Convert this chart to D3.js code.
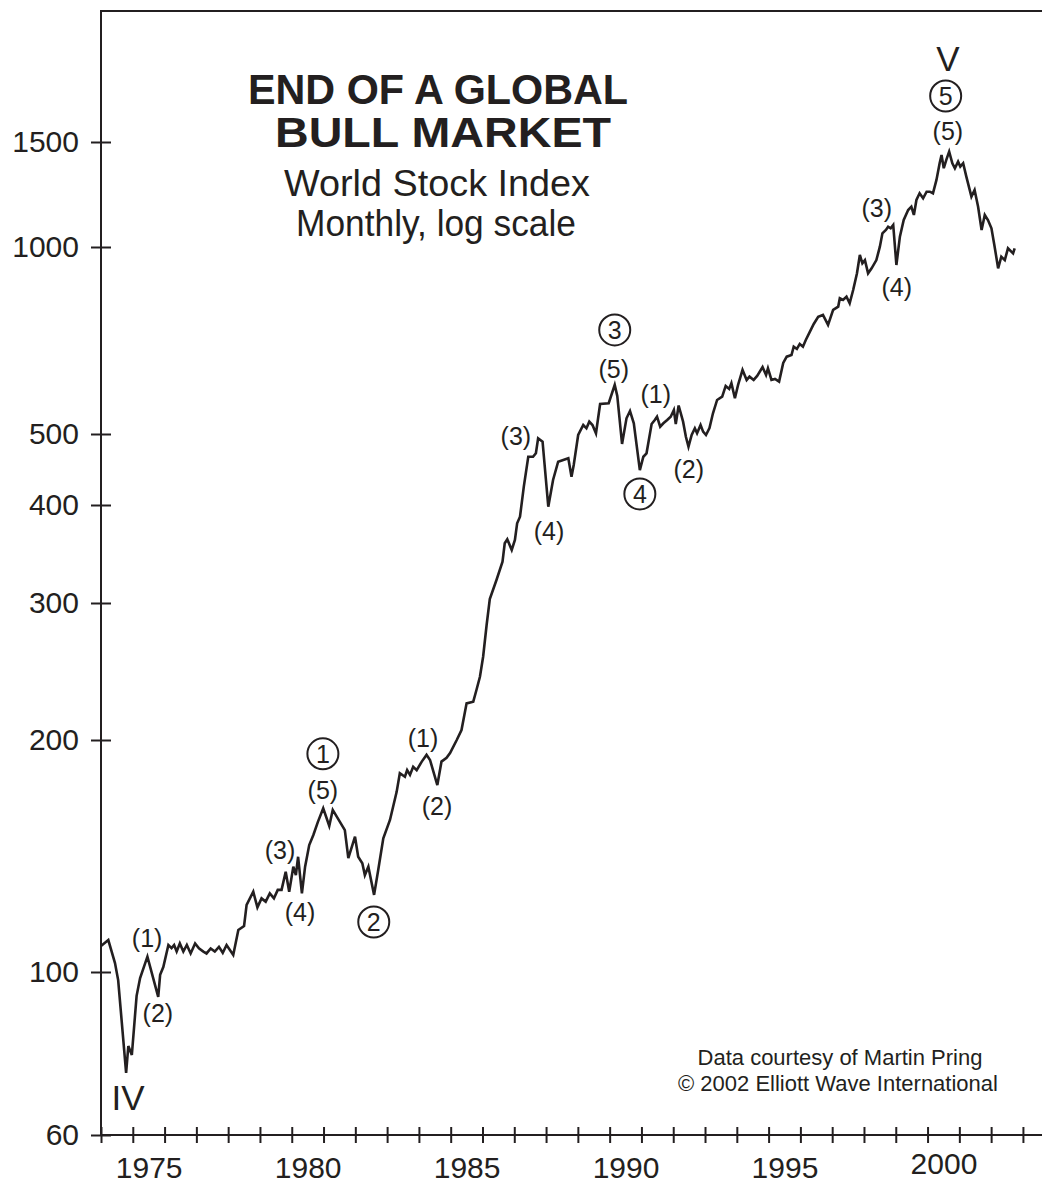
<!DOCTYPE html>
<html>
<head>
<meta charset="utf-8">
<script src="https://cdn.jsdelivr.net/npm/d3@7"></script>
<style>
	body { margin: 0; background: #fff; }
	text { font-family: "Liberation Sans", Arial, Helvetica, sans-serif; fill: #231f20; }
</style>
</head>
<body>
<script>

// monthly closes, world stock index (decimal year / index level)
var dates = [
	1974.00, 1974.23, 1974.44, 1974.54, 1974.79, 1974.86, 1974.97, 1975.12, 1975.23, 1975.46,
	1975.80, 1975.86, 1975.96, 1976.12, 1976.22, 1976.30, 1976.38, 1976.48, 1976.59, 1976.70,
	1976.82, 1976.96, 1977.08, 1977.22, 1977.32, 1977.45, 1977.58, 1977.71, 1977.83, 1977.95,
	1978.16, 1978.32, 1978.50, 1978.58, 1978.79, 1978.92, 1979.05, 1979.18, 1979.31, 1979.44,
	1979.56, 1979.68, 1979.81, 1979.92, 1980.05, 1980.13, 1980.20, 1980.32, 1980.42, 1980.55,
	1980.68, 1980.82, 1980.99, 1981.18, 1981.29, 1981.67, 1981.78, 1981.99, 1982.09, 1982.22,
	1982.30, 1982.41, 1982.59, 1982.72, 1982.88, 1983.09, 1983.30, 1983.40, 1983.56, 1983.63,
	1983.72, 1983.82, 1983.93, 1984.09, 1984.24, 1984.35, 1984.58, 1984.71, 1984.87, 1984.98,
	1985.19, 1985.34, 1985.50, 1985.71, 1985.81, 1985.92, 1986.02, 1986.13, 1986.23, 1986.44,
	1986.63, 1986.70, 1986.78, 1986.92, 1987.02, 1987.09, 1987.18, 1987.30, 1987.44, 1987.59,
	1987.68, 1987.75, 1987.89, 1988.07, 1988.22, 1988.38, 1988.54, 1988.70, 1988.80, 1988.87,
	1989.01, 1989.17, 1989.27, 1989.36, 1989.46, 1989.57, 1989.70, 1989.97, 1990.16, 1990.24,
	1990.39, 1990.53, 1990.64, 1990.76, 1990.95, 1991.06, 1991.16, 1991.32, 1991.42, 1991.49,
	1991.59, 1991.69, 1991.81, 1991.92, 1992.02, 1992.08, 1992.17, 1992.31, 1992.40, 1992.48,
	1992.58, 1992.68, 1992.75, 1992.86, 1992.94, 1993.03, 1993.14, 1993.25, 1993.38, 1993.54,
	1993.65, 1993.76, 1993.83, 1993.94, 1994.04, 1994.18, 1994.31, 1994.40, 1994.53, 1994.64,
	1994.81, 1994.92, 1994.98, 1995.09, 1995.20, 1995.33, 1995.46, 1995.57, 1995.72, 1995.79,
	1995.89, 1995.98, 1996.08, 1996.17, 1996.30, 1996.42, 1996.56, 1996.71, 1996.87, 1997.03,
	1997.19, 1997.24, 1997.34, 1997.45, 1997.55, 1997.66, 1997.78, 1997.87, 1997.95, 1998.03,
	1998.13, 1998.24, 1998.39, 1998.50, 1998.58, 1998.69, 1998.76, 1998.84, 1998.92, 1999.02,
	1999.13, 1999.25, 1999.39, 1999.49, 1999.57, 1999.65, 1999.75, 1999.86, 1999.97, 2000.07,
	2000.17, 2000.28, 2000.38, 2000.44, 2000.51, 2000.59, 2000.68, 2000.78, 2000.86, 2000.96,
	2001.03, 2001.12, 2001.22, 2001.38, 2001.48, 2001.59, 2001.70, 2001.80, 2001.90, 2002.01,
	2002.11, 2002.22, 2002.32, 2002.43, 2002.53, 2002.69, 2002.74
];

var values = [
	108.1, 110.0, 102.7, 97.5, 72.9, 79.3, 77.1, 92.8, 98.1, 104.7,
	92.5, 99.1, 101.5, 108.4, 107.4, 108.4, 106.3, 108.9, 106.3, 108.4,
	105.7, 108.9, 107.3, 106.3, 105.7, 107.3, 106.3, 107.8, 105.9, 108.4,
	105.2, 113.4, 114.7, 122.2, 127.1, 121.3, 124.6, 123.4, 126.5, 124.6,
	127.8, 127.8, 134.9, 127.1, 137.0, 133.6, 141.1, 126.5, 137.0, 146.1,
	150.6, 156.5, 163.1, 154.7, 162.3, 152.8, 140.5, 149.8, 141.1, 138.4,
	133.6, 137.0, 125.9, 135.6, 149.1, 157.5, 171.3, 181.1, 179.2, 182.8,
	180.2, 184.6, 182.8, 187.5, 191.3, 188.4, 174.8, 187.5, 189.6, 192.3,
	200.0, 206.0, 222.9, 224.0, 231.9, 241.2, 255.9, 281.1, 303.5, 321.0,
	338.7, 357.5, 361.7, 350.5, 361.0, 379.1, 386.5, 423.7, 465.5, 465.5,
	470.6, 493.3, 488.1, 398.0, 432.7, 458.3, 460.8, 463.2, 437.2, 453.6,
	498.4, 517.0, 510.7, 523.4, 517.0, 501.3, 558.8, 560.3, 599.7, 575.7,
	484.6, 530.0, 544.5, 520.3, 446.4, 465.5, 470.6, 518.9, 526.6, 533.1,
	513.8, 520.3, 526.6, 533.1, 546.6, 518.9, 555.7, 523.4, 495.3, 480.5,
	498.4, 510.7, 501.3, 517.0, 504.3, 498.4, 511.3, 539.9, 567.2, 574.2,
	597.5, 590.9, 603.5, 570.8, 599.7, 633.9, 610.9, 618.4, 610.9, 620.0,
	641.0, 622.3, 637.9, 610.9, 613.2, 607.1, 650.6, 666.0, 670.2, 691.2,
	685.3, 698.1, 691.2, 708.6, 730.7, 751.9, 771.7, 777.4, 749.1, 792.0,
	801.8, 827.2, 822.0, 831.8, 811.8, 852.7, 907.2, 970.8, 941.4, 952.7,
	907.2, 924.1, 952.7, 1001.2, 1054.3, 1067.9, 1081.6, 1074.9, 1088.7, 935.5,
	1040.6, 1109.9, 1153.6, 1168.4, 1131.6, 1199.0, 1230.5, 1207.0, 1238.1, 1238.1,
	1230.5, 1295.6, 1381.9, 1426.9, 1355.5, 1399.7, 1445.2, 1381.9, 1355.5, 1390.5,
	1363.9, 1381.9, 1312.2, 1214.5, 1246.3, 1168.4, 1067.9, 1131.6, 1109.9, 1074.9,
	1001.2, 924.1, 964.7, 952.7, 995.2, 976.9, 995.2
];

var yTicks = [60, 100, 200, 300, 400, 500, 1000, 1500];
var labelYears = [1975, 1980, 1985, 1990, 1995, 2000];

// wave counts: text, date, level, circled?
var waveLabels = [
	["(1)", 1975.45, 110.7, false],
	["(2)", 1975.79, 87.9, false],
	["IV", 1974.85, 67.6, false],
	["(3)", 1979.63, 143.9, false],
	["(4)", 1980.26, 119.6, false],
	["1", 1980.98, 191.9, true],
	["(5)", 1980.98, 172.3, false],
	["2", 1982.58, 116.1, true],
	["(1)", 1984.13, 201.2, false],
	["(2)", 1984.57, 164.2, false],
	["(3)", 1987.05, 496.9, false],
	["(4)", 1988.09, 370.7, false],
	["3", 1990.16, 735.3, true],
	["(5)", 1990.13, 636.3, false],
	["(1)", 1991.45, 580.0, false],
	["4", 1990.95, 414.1, true],
	["(2)", 1992.49, 448.0, false],
	["(3)", 1998.40, 1162.8, false],
	["(4)", 1999.03, 862.2, false],
	["V", 2000.64, 2074.8, false],
	["5", 2000.57, 1791.7, true],
	["(5)", 2000.64, 1565.3, false]
];

var width = 1042, height = 1184;
var padLeft = 101, padTop = 11, baseY = 1135;
var ink = "#231f20";

var svg = d3.select("body").append("svg")
	.attr("width", width)
	.attr("height", height);

var x = d3.scaleLinear()
	.domain([1974, 2003.6])
	.range([padLeft, width]);

// the printed scale is log but not evenly spaced, so map it piece by piece
var y = d3.scaleLog()
	.domain(yTicks)
	.range([baseY, 972, 740, 603, 505, 434, 247, 142]);

// frame
svg.append("path")
	.attr("d", "M" + width + "," + padTop + "H" + padLeft + "V" + baseY)
	.attr("fill", "none")
	.attr("stroke", ink)
	.attr("stroke-width", 2);

// y axis
var gy = svg.append("g")
	.attr("transform", "translate(" + padLeft + ",0)")
	.call(d3.axisLeft(y)
		.tickValues(yTicks)
		.tickFormat(d3.format("d"))
		.tickSize(10)
		.tickPadding(12));
gy.select(".domain").remove();
gy.selectAll(".tick line")
	.attr("x1", 10)
	.attr("stroke", ink)
	.attr("stroke-width", 2);
gy.selectAll(".tick text")
	.style("font-size", "30px")
	.attr("fill", ink);

// x axis
var gx = svg.append("g")
	.attr("transform", "translate(0," + baseY + ")")
	.call(d3.axisBottom(x)
		.tickValues(d3.range(1974, 2004))
		.tickFormat("")
		.tickSize(8)
		.tickSizeOuter(0));
gx.select(".domain")
	.attr("d", "M" + padLeft + ",0H" + width)
	.attr("stroke", ink)
	.attr("stroke-width", 2);
gx.selectAll(".tick line")
	.attr("y1", -8)
	.attr("stroke", ink)
	.attr("stroke-width", 2);

var gxl = svg.append("g")
	.attr("transform", "translate(0," + baseY + ")")
	.call(d3.axisBottom(x)
		.tickValues(labelYears.map(function(d) { return d + 0.5; }))
		.tickFormat(function(d) { return Math.floor(d); })
		.tickSize(0)
		.tickPadding(22));
gxl.select(".domain").remove();
gxl.selectAll(".tick text")
	.style("font-size", "30px")
	.attr("fill", ink)
	.attr("y", function(d) { return Math.floor(d) === 2000 ? 18 : 22; });

// the index
var series = dates.map(function(d, i) { return [d, values[i]]; });

var line = d3.line()
	.x(function(d) { return x(d[0]); })
	.y(function(d) { return y(d[1]); });

svg.append("path")
	.datum(series)
	.attr("d", line)
	.attr("fill", "none")
	.attr("stroke", ink)
	.attr("stroke-width", 2.6)
	.attr("stroke-linejoin", "miter");

// titles
var title = svg.append("g").attr("text-anchor", "middle");
title.append("text").attr("x", 438).attr("y", 104)
	.attr("textLength", 380).attr("lengthAdjust", "spacingAndGlyphs")
	.style("font-size", "42px").style("font-weight", "bold").text("END OF A GLOBAL");
title.append("text").attr("x", 443).attr("y", 147)
	.attr("textLength", 336).attr("lengthAdjust", "spacingAndGlyphs")
	.style("font-size", "42px").style("font-weight", "bold").text("BULL MARKET");
title.append("text").attr("x", 437).attr("y", 196)
	.attr("textLength", 306).attr("lengthAdjust", "spacingAndGlyphs")
	.style("font-size", "37px").text("World Stock Index");
title.append("text").attr("x", 436).attr("y", 236)
	.attr("textLength", 280).attr("lengthAdjust", "spacingAndGlyphs")
	.style("font-size", "37px").text("Monthly, log scale");

var credit = svg.append("g").attr("text-anchor", "middle").style("font-size", "22px");
credit.append("text").attr("x", 840).attr("y", 1065).text("Data courtesy of Martin Pring");
credit.append("text").attr("x", 838).attr("y", 1091).text("\u00a9 2002 Elliott Wave International");

// wave labels
var wl = svg.selectAll(".wave")
	.data(waveLabels)
	.enter().append("g")
	.attr("class", "wave")
	.attr("transform", function(d) {
		return "translate(" + x(d[1]) + "," + y(d[2]) + ")";
	});

wl.filter(function(d) { return d[3]; })
	.append("circle")
	.attr("r", 15.5)
	.attr("fill", "none")
	.attr("stroke", ink)
	.attr("stroke-width", 2);

wl.append("text")
	.attr("text-anchor", "middle")
	.attr("dy", "0.36em")
	.style("font-size", function(d) {
		return d[0] === "IV" || d[0] === "V" ? "35px" : "25px";
	})
	.text(function(d) { return d[0]; });

</script>
</body>
</html>
